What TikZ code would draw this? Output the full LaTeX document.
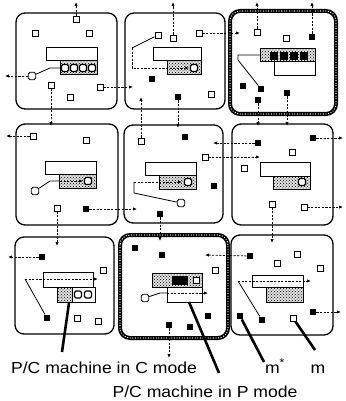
\documentclass[tikz,border=0pt]{standalone}
\usepackage{fontspec}
\setmainfont{Liberation Sans}
\newfontfamily\lblfont[FakeStretch=1.1]{Liberation Sans}
\usetikzlibrary{arrows.meta,patterns}
\begin{document}
\begin{tikzpicture}[x=1pt,y=-1pt,
 cellbox/.style={draw, line width=1.3, rounded corners=9},
 beadbox/.style={draw, line width=4, rounded corners=10},
 beads/.style={draw=white, line width=1.3, dash pattern=on 0pt off 2.6pt, line cap=round, rounded corners=10},
 osq/.style={draw, fill=white, line width=0.9, minimum size=6, inner sep=0},
 rsq/.style={osq, rounded corners=1.8, minimum size=7.5},
 fsq/.style={fill=black, minimum size=6.5, inner sep=0},
 isq/.style={draw, fill=white, line width=1.1, rounded corners=1.5, minimum size=7, inner sep=0},
 wbox/.style={draw, fill=white, line width=1},
 dotbox/.style={draw, line width=1, preaction={fill=black!12}, pattern=crosshatch dots},
 link/.style={line width=0.8},
 flow/.style={line width=0.8, dash pattern=on 2.2pt off 1.4pt, -{Latex[length=4pt,width=3.4pt]}},
 thk/.style={line width=2.6},
 lbl/.style={font=\lblfont\fontsize{16}{19}\selectfont, inner sep=0, anchor=base}]
\useasboundingbox (0,0) rectangle (345,401);

% ---------- cell 1,1 ----------
\draw[cellbox] (16,13) rectangle (117,109);
\draw[wbox] (46,48) rectangle (97,61);
\draw[dotbox] (60,61) rectangle (97,75);
\node[isq] (a8) at (65,68) {};
\node[isq] (a9) at (74,68) {};
\node[isq] (a10) at (83,68) {};
\node[isq] (a11) at (92,68) {};
\node[osq] (a1) at (76,19) {};
\node[osq] (a2) at (35,33) {};
\node[osq] (a3) at (89,33) {};
\node[osq] (a4) at (51,85) {};
\node[osq] (a5) at (100,87) {};
\node[osq] (a6) at (70,97) {};
\node[rsq] (a7) at (32,76) {};
\coordinate (a7k) at (50,68);
\coordinate (a7m) at (60,68);
\draw[link] (a7) -- (a7k) -- (a7m);
\coordinate (t11) at (76,2);
\coordinate (l11) at (5,76);
\coordinate (d11) at (51,126);
\coordinate (r11) at (133,87);
\draw[flow] (a1) -- (t11);
\draw[flow] (a7) -- (l11);
\draw[flow] (a4) -- (d11);
\draw[flow] (a5) -- (r11);

% ---------- cell 1,2 ----------
\draw[cellbox] (125,13) rectangle (225,109);
\draw[wbox] (153,48) rectangle (201,61);
\draw[dotbox] (167,61) rectangle (201,75);
\node[isq] (b7) at (194,68) {};
\node[osq] (b1) at (158,35) {};
\node[osq] (b2) at (173,38) {};
\node[osq] (b3) at (199,33) {};
\node[osq] (b4) at (211,94) {};
\node[fsq] (b5) at (152,79) {};
\node[fsq] (b6) at (178,97) {};
\coordinate (b1k) at (132,48);
\coordinate (b1m) at (132,68);
\coordinate (b1n) at (189,68);
\draw[link] (b1) -- (b1k);
\draw[flow] (b1k) -- (b1m) -- (b1n);
\coordinate (t12) at (173,2);
\coordinate (r12) at (240,33);
\coordinate (d12) at (178,128);
\draw[flow] (b2) -- (t12);
\draw[flow] (b3) -- (r12);
\draw[flow] (b6) -- (d12);

% ---------- cell 1,3 (P mode) ----------
\draw[beadbox] (230,11) rectangle (336,114);
\draw[beads] (230,11) rectangle (336,114);
\draw[dotbox] (260,49) rectangle (315,62);
\node[fsq, minimum size=8] (c8) at (274,56) {};
\node[fsq, minimum size=8] (c9) at (284,56) {};
\node[fsq, minimum size=8] (c10) at (294,56) {};
\node[fsq, minimum size=8] (c11) at (304,56) {};
\draw[wbox] (274,62) rectangle (315,76);
\node[osq] (c1) at (257,32) {};
\node[osq] (c2) at (286,38) {};
\node[fsq] (c3) at (312,37) {};
\node[fsq] (c4) at (243,86) {};
\node[fsq] (c5) at (261,89) {};
\node[fsq] (c6) at (258,100) {};
\node[fsq] (c7) at (287,93) {};
\coordinate (c5k) at (238,60);
\coordinate (c5m) at (238,55);
\coordinate (c5n) at (260,55);
\draw[link] (c5) -- (c5k) -- (c5m) -- (c5n);
\coordinate (t13a) at (257,2);
\coordinate (t13b) at (312,2);
\coordinate (d13a) at (258,126);
\coordinate (d13b) at (287,126);
\draw[flow] (c1) -- (t13a);
\draw[flow] (c3) -- (t13b);
\draw[flow] (c6) -- (d13a);
\draw[flow] (c7) -- (d13b);

% ---------- cell 2,1 ----------
\draw[cellbox] (16,124) rectangle (118,225);
\draw[wbox] (45,161) rectangle (96,174);
\draw[dotbox] (59,174) rectangle (96,188);
\node[isq] (d6) at (88,181) {};
\node[osq] (d1) at (33,136) {};
\node[osq] (d2) at (86,140) {};
\node[rsq] (d3) at (35,191) {};
\node[osq] (d4) at (57,208) {};
\node[fsq] (d5) at (86,209) {};
\coordinate (d3k) at (50,181);
\coordinate (d3m) at (60,181);
\coordinate (d3n) at (83,181);
\draw[link] (d3) -- (d3k) -- (d3m);
\draw[flow] (d3m) -- (d3n);
\coordinate (l21) at (6,136);
\coordinate (d21) at (57,246);
\coordinate (r21) at (137,209);
\draw[flow] (d1) -- (l21);
\draw[flow] (d4) -- (d21);
\draw[flow] (d5) -- (r21);

% ---------- cell 2,2 ----------
\draw[cellbox] (124,125) rectangle (223,223);
\draw[wbox] (145,162) rectangle (196,175);
\draw[dotbox] (159,175) rectangle (196,189);
\node[isq] (e7) at (188,182) {};
\node[osq] (e1) at (141,141) {};
\node[fsq] (e2) at (185,137) {};
\node[osq] (e3) at (205,157) {};
\node[fsq] (e4) at (214,186) {};
\node[rsq] (e5) at (181,203) {};
\node[fsq] (e6) at (160,214) {};
\coordinate (e5k) at (134,193);
\coordinate (e5m) at (134,182);
\coordinate (e5n) at (182,182);
\draw[link] (e5) -- (e5k) -- (e5m);
\draw[flow] (e5m) -- (e5n);
\coordinate (t22) at (141,97);
\coordinate (r22) at (260,157);
\coordinate (d22) at (160,241);
\draw[flow] (e1) -- (t22);
\draw[flow] (e3) -- (r22);
\draw[flow] (e6) -- (d22);

% ---------- cell 2,3 ----------
\draw[cellbox] (232,124) rectangle (333,225);
\draw[wbox] (260,162) rectangle (310,176);
\draw[dotbox] (273,176) rectangle (310,189);
\node[isq] (f7) at (302,182) {};
\node[fsq] (f1) at (258,143) {};
\node[osq] (f2) at (292,152) {};
\node[fsq] (f3) at (313,138) {};
\node[osq] (f4) at (244,168) {};
\node[osq] (f5) at (272,204) {};
\node[osq] (f6) at (304,207) {};
\coordinate (l23) at (213,143);
\coordinate (r23a) at (343,138);
\coordinate (r23b) at (343,207);
\coordinate (d23) at (272,243);
\draw[flow] (f1) -- (l23);
\draw[flow] (f3) -- (r23a);
\draw[flow] (f6) -- (r23b);
\draw[flow] (f5) -- (d23);

% ---------- cell 3,1 ----------
\draw[cellbox] (15,237) rectangle (114,334);
\draw[wbox] (43,272) rectangle (93,287);
\draw[dotbox] (57,287) rectangle (72,302);
\draw[wbox] (72,287) rectangle (95,302);
\node[isq] (g6) at (78,294.5) {};
\node[isq] (g7) at (88,294.5) {};
\node[fsq] (g1) at (42,257) {};
\node[osq] (g2) at (103,270) {};
\node[fsq] (g3) at (47,318) {};
\node[osq] (g4) at (77,318) {};
\node[osq] (g5) at (98,321) {};
\coordinate (g3k) at (25,279);
\coordinate (g3n) at (98,279);
\draw[link] (g3) -- (g3k);
\draw[flow] (g3k) -- (g3n);
\coordinate (l31) at (8,257);
\draw[flow] (g1) -- (l31);

% ---------- cell 3,2 (P mode) ----------
\draw[beadbox] (120,235) rectangle (228,338);
\draw[beads] (120,235) rectangle (228,338);
\draw[dotbox] (152,273) rectangle (202,287);
\node[fsq, minimum width=16, minimum height=9] (h8) at (180,280) {};
\node[osq] (h9) at (196,280) {};
\draw[wbox] (167,287) rectangle (202,302);
\node[fsq] (h1) at (135,248) {};
\node[fsq] (h2) at (162,255) {};
\node[osq] (h3) at (215,270) {};
\node[rsq] (h4) at (145,298) {};
\node[fsq] (h5) at (208,316) {};
\node[fsq] (h6) at (169,325) {};
\node[fsq] (h7) at (190,327) {};
\coordinate (h4k) at (160,293);
\coordinate (h4m) at (167,293);
\coordinate (h4n) at (208,293);
\draw[link] (h4) -- (h4k) -- (h4m);
\draw[flow] (h4m) -- (h4n);
\coordinate (d32) at (169,358);
\draw[flow] (h6) -- (d32);

% ---------- cell 3,3 ----------
\draw[cellbox] (231,235) rectangle (333,335);
\draw[wbox] (252,275) rectangle (303,287);
\draw[dotbox] (266,287) rectangle (303,302);
\node[fsq] (i1) at (250,256) {};
\node[osq] (i2) at (277,263) {};
\node[osq] (i3) at (297,254) {};
\node[osq] (i4) at (320,268) {};
\node[fsq] (i5) at (313,312) {};
\node[fsq] (i6) at (240,316) {};
\node[fsq] (i7) at (262,320) {};
\node[osq] (i8) at (293,318) {};
\coordinate (i7k) at (238,281);
\coordinate (i7n) at (311,281);
\draw[link] (i7) -- (i7k);
\draw[flow] (i7k) -- (i7n);
\coordinate (l33) at (205,255);
\coordinate (r33) at (341,312);
\draw[flow] (i1) -- (l33);
\draw[flow] (i5) -- (r33);

% ---------- labels and pointers ----------
\node[lbl] (cmode) at (104,373) {P/C machine in C mode};
\node[lbl] (pmode) at (205,397) {P/C machine in P mode};
\node[lbl] (mstar) at (275,373) {m\textsuperscript{*}};
\node[lbl] (mlab) at (318,373) {m};
\coordinate (pc1) at (62,352);
\coordinate (pc2) at (69,303);
\coordinate (pp1) at (219,373);
\coordinate (pp2) at (189,302);
\coordinate (pms) at (264,362);
\coordinate (pm) at (315,350);
\draw[thk] (pc1) -- (pc2);
\draw[thk] (pp1) -- (pp2);
\draw[thk] (pms) -- (i6);
\draw[thk] (pm) -- (i8);
\end{tikzpicture}
\end{document}
